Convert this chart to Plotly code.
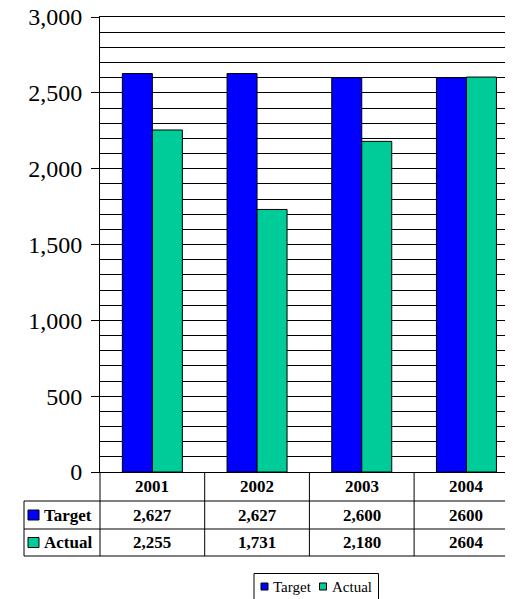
import plotly.graph_objects as go

# chart data
years = ['2001', '2002', '2003', '2004']
target = [2627, 2627, 2600, 2600]
actual = [2255, 1731, 2180, 2604]
# labels as printed in the data table (last column has no thousands separator)
target_text = ['2,627', '2,627', '2,600', '2600']
actual_text = ['2,255', '1,731', '2,180', '2604']
y_ticks = [0, 500, 1000, 1500, 2000, 2500, 3000]
y_tick_text = ['0', '500', '1,000', '1,500', '2,000', '2,500', '3,000']

BLUE = '#0000FF'
GREEN = '#00CC99'
FONT = 'Liberation Serif'

# the page body has an 8px margin, so the figure is 8px smaller than the window
OFF = 8
W, H = 513 - OFF, 599 - OFF
PLOT_LEFT, PLOT_TOP, PLOT_BOTTOM = 100, 17, 472   # page pixels
L, T = PLOT_LEFT - OFF, PLOT_TOP - OFF
B = H - (PLOT_BOTTOM - OFF)
PH = H - T - B
PW = W - L


def py(px):
    # page pixel row -> paper y
    return (PLOT_BOTTOM - px) / PH


def pxx(px):
    # page pixel column -> paper x
    return (px - PLOT_LEFT) / PW


fig = go.Figure()
fig.add_trace(go.Bar(x=list(range(4)), y=target, name='Target',
                     marker=dict(color=BLUE, line=dict(color='black', width=1))))
fig.add_trace(go.Bar(x=list(range(4)), y=actual, name='Actual',
                     marker=dict(color=GREEN, line=dict(color='black', width=1))))

shapes = []
annotations = []
line = dict(color='black', width=1)
cell_font = dict(family=FONT, size=17, color='black')

# data table lines
for yy in [py(501), py(529), py(556)]:
    shapes.append(dict(type='line', xref='paper', yref='paper', x0=pxx(24), x1=1.05,
                       y0=yy, y1=yy, line=line))
for xx in [0.5, 1.5, 2.5]:
    shapes.append(dict(type='line', xref='x', yref='paper', x0=xx, x1=xx,
                       y0=0, y1=py(556), line=line))
shapes.append(dict(type='line', xref='paper', yref='paper', x0=0, x1=0,
                   y0=0, y1=py(556), line=line))
shapes.append(dict(type='line', xref='paper', yref='paper', x0=pxx(24), x1=pxx(24),
                   y0=py(501), y1=py(556), line=line))

# header row and values
for i, yr in enumerate(years):
    for txt, yc in [(yr, 486.5), (target_text[i], 515), (actual_text[i], 542.5)]:
        annotations.append(dict(x=i, y=py(yc), xref='x', yref='paper', text='<b>%s</b>' % txt,
                                xanchor='center', yanchor='middle', showarrow=False, font=cell_font))

# row labels with colour keys
for name, col, yc in [('Target', BLUE, 515), ('Actual', GREEN, 542.5)]:
    shapes.append(dict(type='rect', xref='paper', yref='paper', x0=pxx(28), x1=pxx(39),
                       y0=py(yc - 5), y1=py(yc + 5), fillcolor=col, line=line))
    annotations.append(dict(x=pxx(42), y=py(yc), xref='paper', yref='paper', text='<b>%s</b>' % name,
                            xanchor='left', yanchor='middle', showarrow=False, font=cell_font))

# legend box at the bottom
shapes.append(dict(type='rect', xref='paper', yref='paper', x0=pxx(254), x1=pxx(378.5),
                   y0=py(573.5), y1=py(605), line=line, fillcolor='white'))
for name, col, kx, tx in [('Target', BLUE, 261, 271), ('Actual', GREEN, 319.5, 330)]:
    shapes.append(dict(type='rect', xref='paper', yref='paper', x0=pxx(kx), x1=pxx(kx + 7),
                       y0=py(583), y1=py(590), fillcolor=col, line=line))
    annotations.append(dict(x=pxx(tx), y=py(586.5), xref='paper', yref='paper', text=name,
                            xanchor='left', yanchor='middle', showarrow=False,
                            font=dict(family=FONT, size=15, color='black')))

fig.update_layout(
    width=W, height=H,
    margin=dict(l=L, r=0, t=T, b=B, autoexpand=False),
    paper_bgcolor='white', plot_bgcolor='white',
    barmode='group', bargap=0.427, bargroupgap=0,
    showlegend=False,
    shapes=shapes, annotations=annotations,
    font=dict(family=FONT, color='black'),
)
fig.update_xaxes(range=[-0.5, -0.5 + PW / 104.7], showticklabels=False, ticks='',
                 showgrid=False, showline=True, linecolor='black', linewidth=1, mirror=True,
                 zeroline=False, automargin=False)
fig.update_yaxes(range=[0, 3000], tickvals=y_ticks, ticktext=y_tick_text,
                 ticks='outside', ticklen=8, tickcolor='black', ticklabelstandoff=4,
                 ticklabeloverflow='allow', automargin=False,
                 tickfont=dict(family=FONT, size=24, color='black'),
                 showgrid=True, gridcolor='black', gridwidth=1,
                 minor=dict(dtick=100, tick0=0, showgrid=True, gridcolor='black', gridwidth=1),
                 showline=True, linecolor='black', linewidth=1, zeroline=False)

fig.write_html("out.html")
